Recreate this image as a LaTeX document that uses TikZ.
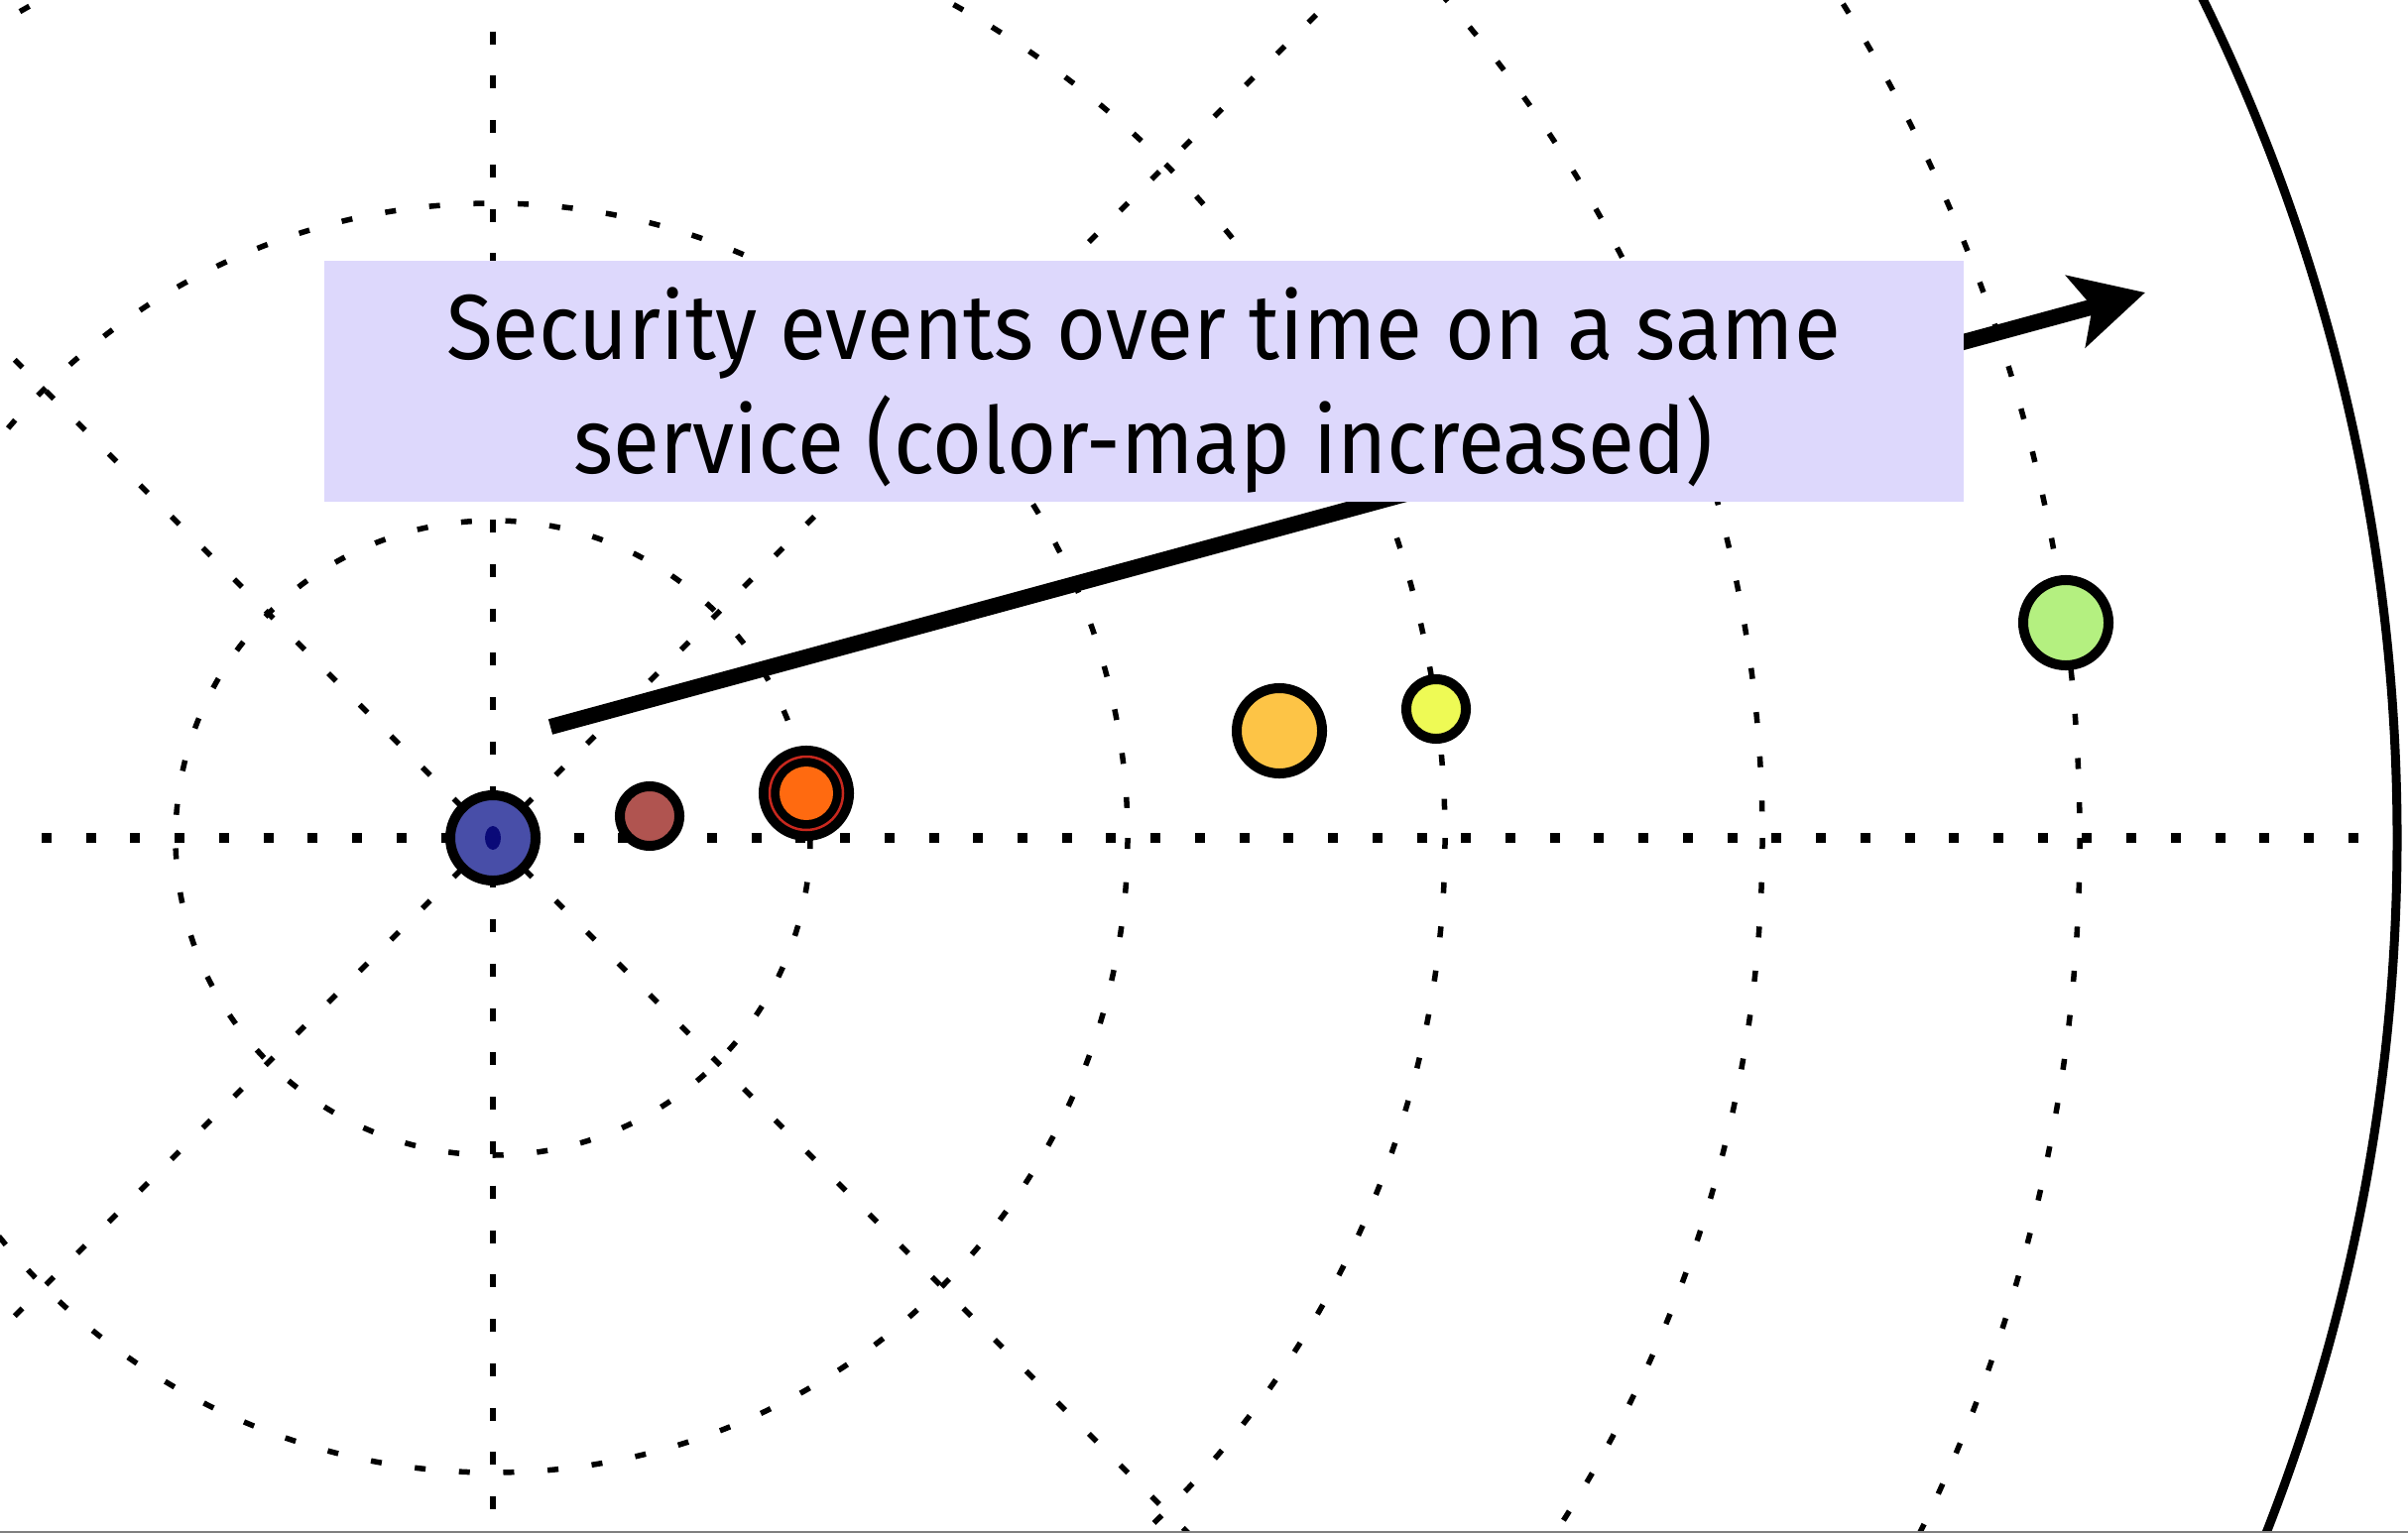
\documentclass[tikz,border=0pt]{standalone}
\usepackage{fontspec}
\newfontfamily\labelfont{Fira Sans}[FakeStretch=0.92]
\usetikzlibrary{arrows.meta}
\definecolor{boxfill}{RGB}{221,216,252}
\definecolor{evblue}{RGB}{72,78,168}
\definecolor{evnavy}{RGB}{10,10,120}
\definecolor{evbrown}{RGB}{176,84,80}
\definecolor{evorange}{RGB}{255,106,16}
\definecolor{evred}{RGB}{200,40,30}
\definecolor{evamber}{RGB}{253,196,70}
\definecolor{evyellow}{RGB}{238,250,85}
\definecolor{evgreen}{RGB}{180,240,128}
\begin{document}
\begin{tikzpicture}[x=0.01cm, y=-0.01cm,
    gridline/.style={line width=0.55mm, dash pattern=on 0.11cm off 0.337cm},
    event/.style={circle, draw, line width=1mm, inner sep=0pt, minimum size=0.86cm},
    smallevent/.style={event, minimum size=0.6cm}]
  \useasboundingbox (0,0) rectangle (2428,1546);
  \clip (0,0) rectangle (2428,1546);
  \coordinate (o) at (497,845);
  \foreach \r in {320,640,...,1600}
    \draw[gridline] (o) circle (\r);
  \foreach \a in {45,135,225,315}
    \draw[gridline] (o) -- ++(\a:1920);
  \draw[line width=0.6mm, dash pattern=on 0.13cm off 0.3175cm, dash phase=0.1325cm] (497,0) -- (497,1546);
  \draw[line width=1mm, dash pattern=on 0.1cm off 0.347cm] (42,845) -- (2417,845);
  \draw[line width=0.9mm] (o) circle (1920);
  \draw[gray, line width=0.3mm] (0,1545) -- (2428,1545);
  \node[event, fill=evblue] (e1) at (o) {};
  \fill[evnavy] (e1.center) ellipse (8 and 12);
  \node[smallevent, fill=evbrown] (e2) at (655,823) {};
  \node[event, fill=black] (e3) at (813,800) {};
  \draw[evred, line width=0.25mm] (e3.center) circle (37);
  \fill[evorange] (e3.center) circle (27);
  \node[event, fill=evamber] (e4) at (1290,737) {};
  \node[smallevent, fill=evyellow] (e5) at (1448,715) {};
  \node[event, fill=evgreen] (e6) at (2083,628) {};
  \coordinate (tail) at (555,733);
  \coordinate (tip) at (2163,295);
  \draw[line width=1.6mm, -{Stealth[length=0.72cm, width=0.74cm, inset=0.17cm]}] (tail) -- (tip);
  \node[fill=boxfill, minimum width=16.52cm, minimum height=2.43cm, inner sep=0pt] (box) at (1153,384.5) {};
  \node[align=center, inner sep=0pt, font={\labelfont\fontsize{26.5pt}{32.7pt}\selectfont}] (lbl) at (1153,394)
    {Security events over time on a same\\service (color-map increased)};
\end{tikzpicture}
\end{document}
